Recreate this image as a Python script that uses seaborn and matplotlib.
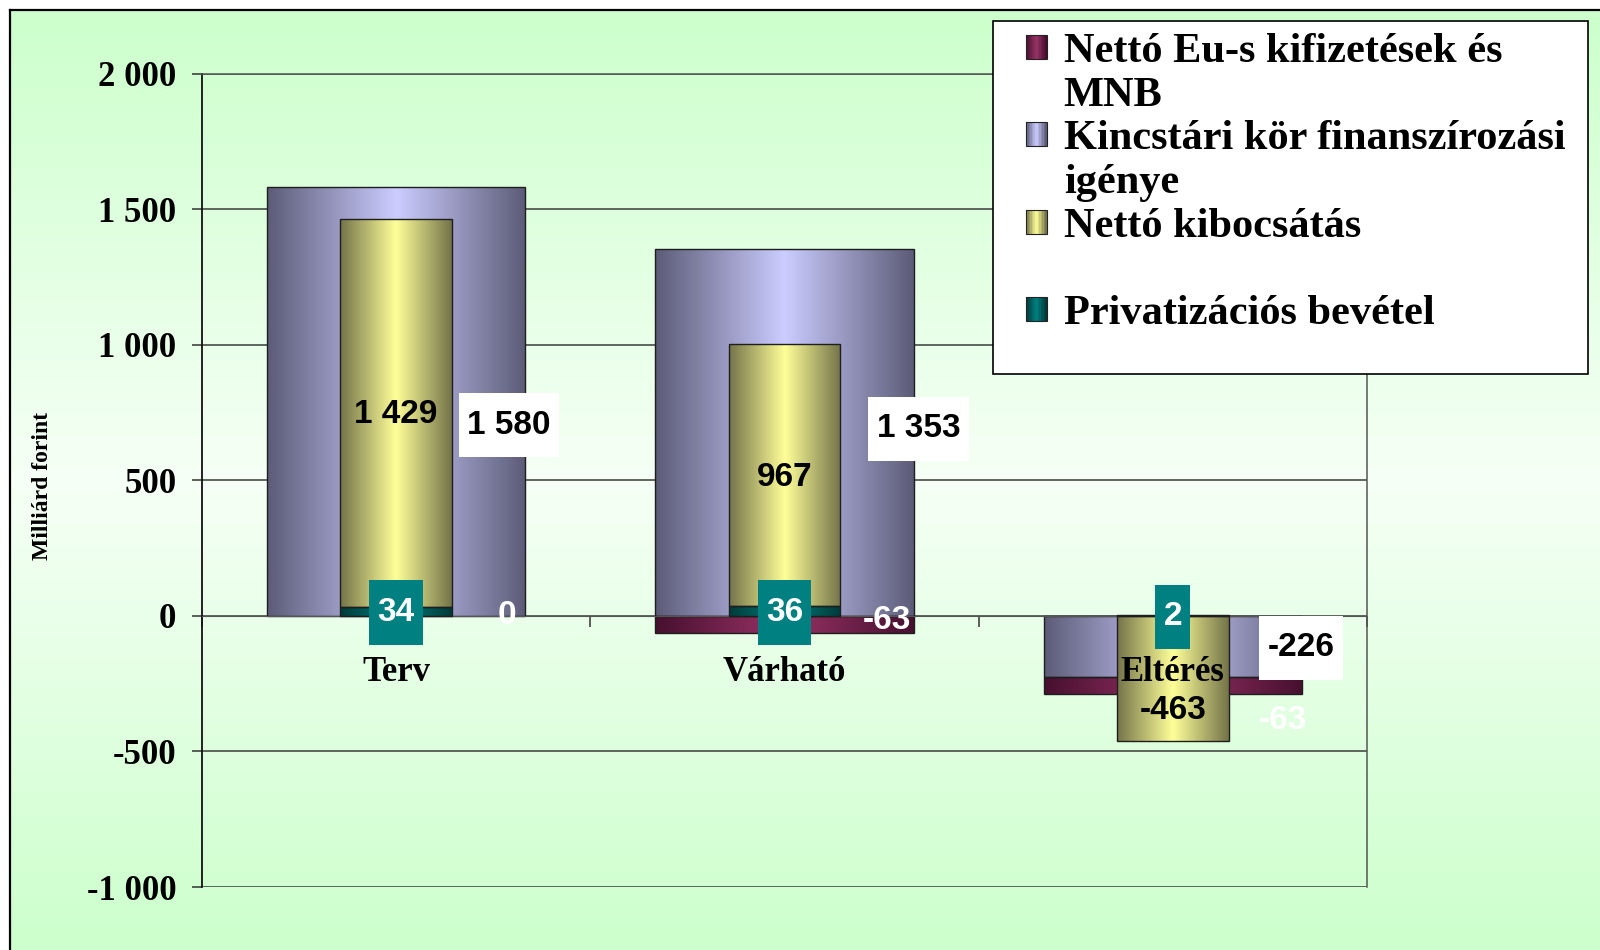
import numpy as np
import seaborn as sns
import matplotlib.pyplot as plt
from functools import partial
from matplotlib.patches import Rectangle, Patch
from matplotlib.path import Path
from matplotlib.legend_handler import HandlerBase
from matplotlib.colors import to_rgb

# data
categories = ["Terv", "Várható", "Eltérés"]
kincstari = [1580, 1353, -226]      # Kincstári kör finanszírozási igénye
netto_eu = [0, -63, -63]            # Nettó Eu-s kifizetések és MNB
kibocsatas = [1429, 967, -463]      # Nettó kibocsátás
privat = [34, 36, 2]                # Privatizációs bevétel
yticks = [-1000, -500, 0, 500, 1000, 1500, 2000]

legend_rows = [("mar", "Nettó Eu-s kifizetések és"), (None, "MNB"),
               ("lav", "Kincstári kör finanszírozási"), (None, "igénye"),
               ("yel", "Nettó kibocsátás"), (None, " "),
               ("teal", "Privatizációs bevétel"), (None, " ")]

# gradient colours (edge, centre)
COL = {"lav": ("#5c5c78", "#ccccff"), "mar": ("#47102f", "#993366"),
       "yel": ("#74744a", "#ffff99"), "teal": ("#003a3a", "#008080")}

plt.rcParams["font.family"] = "Liberation Serif"
plt.rcParams["font.weight"] = "bold"


def gradient(edge, center, n=200):
    e = np.array(to_rgb(edge))
    c = np.array(to_rgb(center))
    f = 1 - np.abs(2 * np.linspace(0, 1, n) - 1)
    return (e[None, :] * (1 - f[:, None]) + c[None, :] * f[:, None])[None, :, :]


def box_style(x0, y0, width, height, mutation_size, padx=0.25, pady=0.5):
    px = padx * mutation_size
    py = pady * mutation_size
    x0, y0 = x0 - px, y0 - py
    x1, y1 = x0 + width + 2 * px, y0 + height + 2 * py
    return Path([(x0, y0), (x1, y0), (x1, y1), (x0, y1), (x0, y0)], closed=True)


class GradHandler(HandlerBase):
    def __init__(self, key):
        super().__init__()
        self.key = key

    def create_artists(self, legend, orig_handle, xdescent, ydescent,
                       width, height, fontsize, trans):
        if self.key is None:
            return [Rectangle((0, 0), 0, 0, visible=False)]
        g = gradient(*COL[self.key], n=14)[0]
        arts = []
        for i, c in enumerate(g):
            arts.append(Rectangle((-xdescent + i * width / len(g), -ydescent),
                                  width / len(g), height, facecolor=c,
                                  edgecolor="none", transform=trans))
        arts.append(Rectangle((-xdescent, -ydescent), width, height, fill=False,
                              edgecolor="#222222", lw=0.8, transform=trans))
        return arts


fig = plt.figure(figsize=(16, 9.5), dpi=100, facecolor="white")

# background with frame
bg = fig.add_axes([0, 0, 1, 1], zorder=-10)
yy = np.linspace(0, 1, 300)
f = 1 - np.abs(2 * yy - 1)
top = np.array(to_rgb("#ccffcc"))
mid = np.array(to_rgb("#f6fff6"))
bgcol = (top[None, :] * (1 - f[:, None]) + mid[None, :] * f[:, None])[:, None, :]
bg.imshow(bgcol, extent=[10, 1600, 950, 10], aspect="auto")
bg.plot([10, 10], [950, 10], color="black", lw=1.6)
bg.plot([10, 1600], [10, 10], color="black", lw=1.6)
bg.set_xlim(0, 1600)
bg.set_ylim(950, 0)
bg.axis("off")

ax = fig.add_axes([202 / 1600, 63 / 950, 1165 / 1600, 813.5 / 950])
ax.patch.set_visible(False)

lav = np.array(kincstari)
mar = np.array(netto_eu)
yel = np.array(kibocsatas)
tea = np.array(privat)

wide, narrow = 0.665, 0.287
bar_kw = dict(order=categories, errorbar=None, edgecolor="#1e1e1e", linewidth=1.0, ax=ax)
sns.barplot(x=categories, y=kincstari, width=wide, color=COL["lav"][1], zorder=2, **bar_kw)
sns.barplot(x=categories, y=netto_eu, width=wide, bottom=np.minimum(lav, 0),
            color=COL["mar"][1], zorder=2, **bar_kw)
sns.barplot(x=categories, y=privat, width=narrow, color=COL["teal"][1], zorder=3, **bar_kw)
sns.barplot(x=categories, y=kibocsatas, width=narrow, bottom=np.where(yel > 0, tea, 0),
            color=COL["yel"][1], zorder=3, **bar_kw)

# gradient fill of every bar
for cont, key in zip(ax.containers, ["lav", "mar", "teal", "yel"]):
    for p in cont.patches:
        h = p.get_height()
        if abs(h) < 1e-9:
            p.set_visible(False)
            continue
        x0, y0, w = p.get_x(), p.get_y(), p.get_width()
        im = ax.imshow(gradient(*COL[key]), extent=[x0, x0 + w, min(y0, y0 + h), max(y0, y0 + h)],
                       aspect="auto", zorder=p.get_zorder() - 0.05, interpolation="bilinear")
        im.set_clip_path(p)
        p.set_facecolor("none")

ax.set_xlim(-0.5, 2.5)
ax.set_ylim(-1000, 2000)
ax.set_yticks(yticks)
ax.set_yticklabels([f"{v:,}".replace(",", " ") for v in yticks])
ax.yaxis.grid(True, color="#3a3a3a", lw=1.1)
ax.set_axisbelow(True)
ax.tick_params(axis="y", labelsize=25, direction="out", length=7.5, width=1.1,
               color="#333333", pad=11)
ax.set_xticks([-0.5, 0.5, 1.5, 2.5])
ax.set_xticklabels([])
ax.tick_params(axis="x", direction="out", length=8, width=1.1, color="#333333")
ax.spines["bottom"].set_position(("data", 0))
ax.spines["bottom"].set_color("#555555")
for s in ["top", "right"]:
    ax.spines[s].set_color("#555555")
    ax.spines[s].set_linewidth(1.1)
ax.spines["left"].set_color("#111111")
ax.spines["left"].set_linewidth(1.3)
ax.set_xlabel("")
ax.set_ylabel("Milliárd forint", fontsize=17, fontweight="bold")
ax.yaxis.set_label_coords(-0.128, 0.493)

# category labels sit below the zero line, above the bars
for i, c in enumerate(categories):
    ax.annotate(c, xy=(i, 0), xytext=(0, -40.5), textcoords="offset points",
                ha="center", va="center", fontsize=25, fontweight="bold", zorder=6)


def fmt(v):
    return f"{v:,}".replace(",", " ")


lab_kw = dict(textcoords="offset points", ha="center", va="center", fontsize=24,
              fontweight="bold", family="Liberation Sans", zorder=8)
boxed = partial(box_style, padx=0.25, pady=0.5)

# Nettó kibocsátás
yel_bottom = np.where(yel > 0, tea, 0)
for i, (v, b, dy) in enumerate(zip(kibocsatas, yel_bottom, [-1.5, -1.5, -23])):
    ax.annotate(fmt(v), xy=(i, b + v / 2), xytext=(0, dy), color="black", **lab_kw)

# Kincstári kör
for i, (v, dx, dy) in enumerate(zip(kincstari, [0.29, 0.345, 0.33], [-17, 2.5, -1])):
    ax.annotate(fmt(v), xy=(i + dx, v / 2), xytext=(0, dy), color="black",
                bbox=dict(boxstyle=boxed, facecolor="white", edgecolor="none"), **lab_kw)

# Nettó Eu-s
mar_bottom = np.minimum(lav, 0)
for i, (v, b, dx, dy) in enumerate(zip(netto_eu, mar_bottom, [0.286, 0.263, 0.284], [0, 2.5, -25])):
    ax.annotate(fmt(v), xy=(i + dx, b + v / 2), xytext=(0, dy), color="white", **lab_kw)

# Privatizációs bevétel
for i, v in enumerate(privat):
    ax.annotate(fmt(v), xy=(i, v / 2), xytext=(0, -1), color="white",
                bbox=dict(boxstyle=boxed, facecolor="#008080", edgecolor="none"), **lab_kw)

# legend with its own frame
fig.add_artist(Rectangle((993 / 1600, 1 - 373.5 / 950), 595 / 1600, 353 / 950,
                         transform=fig.transFigure, facecolor="white",
                         edgecolor="black", lw=1.2, zorder=4))
handles = [Patch() for _ in legend_rows]
hmap = {h: GradHandler(k) for h, (k, _) in zip(handles, legend_rows)}
fig.legend(handles, [t for _, t in legend_rows], handler_map=hmap, loc="upper left",
           bbox_to_anchor=(1026 / 1600, 1 - 33 / 950), frameon=False, borderpad=0,
           borderaxespad=0, handlelength=0.49, handleheight=0.49, handletextpad=0.4,
           labelspacing=0.135, prop=dict(family="Liberation Serif", weight="bold", size=30.5))

fig.savefig("out.png", dpi=100)
